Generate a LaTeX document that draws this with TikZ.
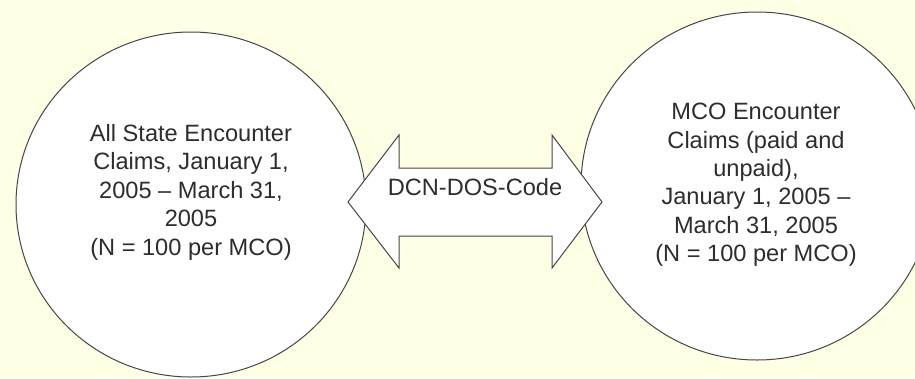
\documentclass[tikz,border=0pt]{standalone}
\usepackage{fontspec}
\setmainfont{Liberation Sans}
\usetikzlibrary{shapes.geometric}

\definecolor{paper}{RGB}{255,255,230}
\definecolor{edge}{RGB}{70,70,70}
\definecolor{ink}{RGB}{45,45,45}

\tikzset{
  setbox/.style={ellipse, draw=edge, line width=1pt, fill=white,
                 inner sep=0pt, outer sep=0pt},
  settext/.style={align=center, text=ink, inner sep=0pt, anchor=north,
                  font=\fontsize{23.6}{28.4}\selectfont},
  linkshape/.style={draw=edge, line width=1pt, fill=white, line join=miter},
  linktext/.style={text=ink, inner sep=0pt, anchor=base,
                   font=\fontsize{23.6}{28.4}\selectfont}
}

\begin{document}
\begin{tikzpicture}[x=1pt,y=-1pt]
  % page and background
  \useasboundingbox (0,0) rectangle (915,378);
  \clip (0,0) rectangle (915,378);
  \fill[paper] (0,0) rectangle (915,378);

  % the two claim sets
  \node[setbox, minimum width=350pt, minimum height=345pt] (stateSet) at (191,204.5) {};
  \node[setbox, minimum width=352pt, minimum height=348pt] (mcoSet) at (757,186) {};

  % double-headed link between the sets
  \draw[linkshape]
    (348,202) -- (399,135) -- (399,168) -- (552,168) -- (552,135)
    -- (602,202) -- (552,268) -- (552,236) -- (399,236) -- (399,268) -- cycle;
  \node[linktext] (linkLabel) at (475,195) {DCN-DOS-Code};

  % set descriptions
  \node[settext] (stateText) at (191,124.1)
    {All State Encounter\\Claims, January 1,\\2005 – March 31,\\2005\\(N = 100 per MCO)};
  \node[settext] (mcoText) at (756,103.1)
    {MCO Encounter\\Claims (paid and\\unpaid),\\January 1, 2005 –\\March 31, 2005\\(N = 100 per MCO)};
\end{tikzpicture}
\end{document}
